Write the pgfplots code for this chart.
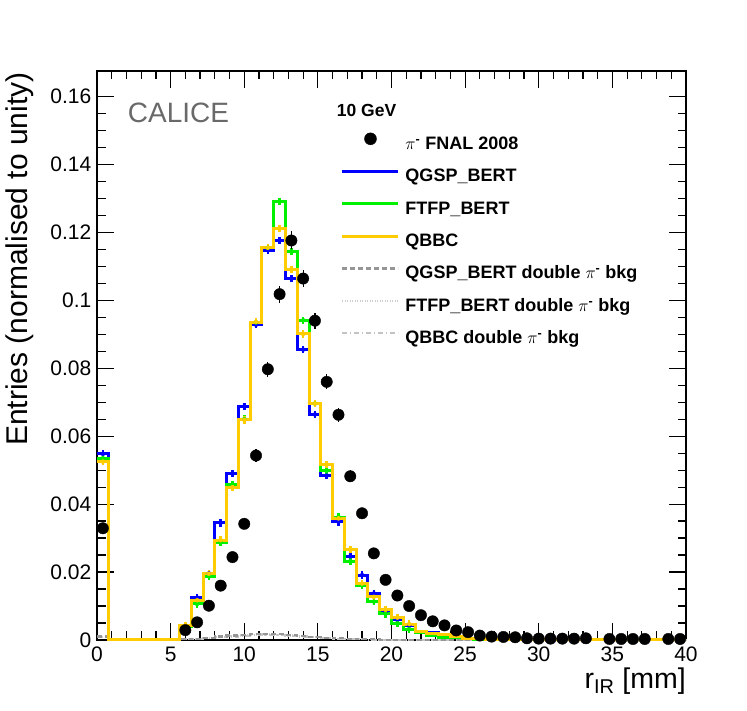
\documentclass[border=0pt]{standalone}
\usepackage{pgfplots}
\pgfplotsset{compat=1.18}
\usepackage{pgfplotstable}
\usepackage{fontspec}
\setmainfont{Liberation Sans}
\definecolor{qbbc}{RGB}{255,204,0}
\definecolor{qgsp}{RGB}{0,0,255}
\definecolor{ftfp}{RGB}{0,240,0}
\definecolor{bkgA}{RGB}{150,150,150}
\definecolor{bkgB}{RGB}{205,205,205}
\definecolor{bkgC}{RGB}{195,195,195}
\definecolor{calgray}{RGB}{105,105,105}

% MC histograms: left bin edge, QGSP_BERT, FTFP_BERT, QBBC, and double-pion backgrounds
\pgfplotstableread{
e    q       f       b       qd      fd      bd
0.0  0.0548  0.0535  0.0525  0.0010  0.0009  0.0008
0.8  0       0       0       0       0       0
1.6  0       0       0       0       0       0
2.4  0       0       0       0       0       0
3.2  0       0       0       0       0       0
4.0  0       0       0       0       0       0
4.8  0       0       0       0       0       0
5.6  0.0040  0.0040  0.0042  0.0002  0.0002  0.0002
6.4  0.0125  0.0106  0.0117  0.0004  0.0003  0.0003
7.2  0.0196  0.0187  0.0195  0.0007  0.0006  0.0005
8.0  0.0345  0.0288  0.0294  0.0010  0.0008  0.0008
8.8  0.0490  0.0457  0.0450  0.0013  0.0011  0.0010
9.6  0.0688  0.0650  0.0648  0.0015  0.0013  0.0012
10.4 0.0928  0.0935  0.0936  0.0017  0.0015  0.0014
11.2 0.1148  0.1155  0.1155  0.0018  0.0016  0.0015
12.0 0.1176  0.1291  0.1211  0.0017  0.0015  0.0014
12.8 0.1064  0.1144  0.1091  0.0015  0.0013  0.0012
13.6 0.0855  0.0941  0.0901  0.0012  0.0011  0.0010
14.4 0.0664  0.0696  0.0696  0.0009  0.0008  0.0008
15.2 0.0484  0.0499  0.0516  0.0007  0.0006  0.0006
16.0 0.0348  0.0362  0.0358  0.0005  0.0004  0.0004
16.8 0.0246  0.0232  0.0267  0.0004  0.0003  0.0003
17.6 0.0191  0.0161  0.0166  0.0003  0.0002  0.0002
18.4 0.0137  0.0113  0.0127  0.0002  0.0001  0.0001
19.2 0.0083  0.0077  0.0089  0.0001  0.0001  0.0001
20.0 0.0059  0.0049  0.0066  0       0       0
20.8 0.0042  0.0032  0.0047  0       0       0
21.6 0.0026  0.0021  0.0026  0       0       0
22.4 0.0021  0.0012  0.0020  0       0       0
23.2 0.0013  0.0008  0.0015  0       0       0
24.0 0.0008  0.0006  0.0009  0       0       0
24.8 0.0005  0.0004  0.0005  0       0       0
25.6 0.0003  0.0002  0.0003  0       0       0
26.4 0.0002  0.0001  0.0002  0       0       0
27.2 0.0001  0.0001  0.0001  0       0       0
28.0 0       0       0       0       0       0
28.8 0       0       0       0       0       0
29.6 0       0       0       0       0       0
30.4 0       0       0       0       0       0
31.2 0       0       0       0       0       0
32.0 0       0       0       0       0       0
32.8 0       0       0       0       0       0
33.6 0       0       0       0       0       0
34.4 0       0       0       0       0       0
35.2 0       0       0       0       0       0
36.0 0       0       0       0       0       0
36.8 0       0       0       0       0       0
37.6 0       0       0       0       0       0
38.4 0       0       0       0       0       0
39.2 0       0       0       0       0       0
40.0 0       0       0       0       0       0
}\mc

% Data: bin centre, value, error
\pgfplotstableread{
c    v       err
0.4  0.0329  0.0008
6.0  0.0029  0.0005
6.8  0.0052  0.0006
7.6  0.0101  0.0008
8.4  0.0160  0.0010
9.2  0.0244  0.0012
10.0 0.0342  0.0014
10.8 0.0543  0.0018
11.6 0.0797  0.0022
12.4 0.1018  0.0025
13.2 0.1176  0.0027
14.0 0.1064  0.0026
14.8 0.0940  0.0024
15.6 0.0760  0.0022
16.4 0.0663  0.0020
17.2 0.0482  0.0017
18.0 0.0373  0.0015
18.8 0.0255  0.0012
19.6 0.0177  0.0010
20.4 0.0131  0.0009
21.2 0.0100  0.0008
22.0 0.0073  0.0007
22.8 0.0055  0.0006
23.6 0.0043  0.0005
24.4 0.0028  0.0004
25.2 0.0023  0.0004
26.0 0.0013  0.0003
26.8 0.0010  0.0003
27.6 0.0009  0.0002
28.4 0.0008  0.0002
29.2 0.0005  0.0002
30.0 0.0004  0.0002
30.8 0.0004  0.0002
31.6 0.0004  0.0002
32.4 0.0004  0.0002
33.2 0.0005  0.0002
34.8 0.0003  0.0002
35.6 0.0003  0.0002
36.4 0.0003  0.0002
37.2 0.0003  0.0002
38.8 0.0003  0.0002
39.6 0.0003  0.0002
}\data

\begin{document}
\begin{tikzpicture}
\path[use as bounding box] (0,0) rectangle (747pt,711pt);
\begin{axis}[
  at={(97pt,71pt)}, anchor=south west,
  scale only axis, width=589pt, height=569pt,
  xmin=0, xmax=40, ymin=0, ymax=0.1675,
  clip=false,
  axis line style={line width=1.5pt, black},
  tick align=inside,
  xtick={0,5,10,15,20,25,30,35,40}, minor x tick num=4,
  ytick={0,0.02,0.04,0.06,0.08,0.1,0.12,0.14,0.16}, minor y tick num=3,
  major tick length=17pt, minor tick length=8.5pt,
  tick style={line width=1.2pt, black},
  /pgf/number format/assume math mode=true,
  ticklabel style={font=\fontsize{21}{24}\selectfont},
  xticklabel style={inner sep=0pt, yshift=-7pt},
  yticklabel style={/pgf/number format/fixed, /pgf/number format/precision=2, inner sep=0pt, xshift=-5.5pt},
  xlabel={r\textsubscript{IR} [mm]},
  ylabel={Entries (normalised to unity)},
  every axis x label/.style={at={(axis description cs:1,-0.0852)}, anchor=base east, font=\fontsize{28.5}{32}\selectfont, inner sep=0pt},
  every axis y label/.style={at={(axis description cs:-0.1177,0.998)}, rotate=90, anchor=base east, font=\fontsize{30}{34}\selectfont, inner sep=0pt},
  legend image code/.code={\draw[mark repeat=2, mark phase=2, #1] plot coordinates {(0pt,6.3pt) (28pt,6.3pt) (56pt,6.3pt)}; \node[inner sep=0pt, outer sep=0pt, minimum size=0pt, text height=0pt, text depth=0pt, text width=0pt] at (63pt,6.3pt) {};},
  legend cell align=left,
  legend style={draw=none, fill=none, at={(axis cs:16.57,0.1493)}, anchor=north west,
    inner sep=0pt, outer sep=0pt, row sep=14.9pt,
    font=\bfseries\fontsize{18}{20}\selectfont,
    nodes={inner sep=0pt, text height=13pt, text depth=4.5pt}},
]
% legend entries
\addlegendimage{only marks, mark=*, mark size=6pt, black}
\addlegendentry{$\pi$\textsuperscript{-} FNAL 2008}
\addlegendimage{qgsp, line width=3pt}
\addlegendentry{QGSP\_BERT}
\addlegendimage{ftfp, line width=3pt}
\addlegendentry{FTFP\_BERT}
\addlegendimage{qbbc, line width=3pt}
\addlegendentry{QBBC}
\addlegendimage{bkgA, line width=2.2pt, dash pattern=on 5pt off 3pt}
\addlegendentry{QGSP\_BERT double $\pi$\textsuperscript{-} bkg}
\addlegendimage{bkgB, line width=2.2pt, dash pattern=on 1pt off 1.5pt}
\addlegendentry{FTFP\_BERT double $\pi$\textsuperscript{-} bkg}
\addlegendimage{bkgC, line width=2.2pt, dash pattern=on 5pt off 3pt on 1pt off 3pt}
\addlegendentry{QBBC double $\pi$\textsuperscript{-} bkg}

% background histograms
\addplot[forget plot, const plot, bkgB, line width=2.2pt, dash pattern=on 1pt off 1.5pt] table[x=e, y=fd] {\mc};
\addplot[forget plot, const plot, bkgC, line width=2.2pt, dash pattern=on 5pt off 3pt on 1pt off 3pt] table[x=e, y=bd] {\mc};
\addplot[forget plot, const plot, bkgA, line width=2.2pt, dash pattern=on 5pt off 3pt] table[x=e, y=qd] {\mc};

% MC histograms
\addplot[forget plot, const plot, qgsp, line width=3pt] table[x=e, y=q] {\mc};
\addplot[forget plot, qgsp, only marks, mark=none, restrict y to domain=0.003:1,
  error bars/.cd, y dir=both, y fixed=0.0011, error mark=none, error bar style={qgsp, line width=2.5pt, solid}]
  table[x expr=\thisrow{e}+0.4, y=q] {\mc};
\addplot[forget plot, const plot, ftfp, line width=3pt] table[x=e, y=f] {\mc};
\addplot[forget plot, ftfp, only marks, mark=none, restrict y to domain=0.003:1,
  error bars/.cd, y dir=both, y fixed=0.0011, error mark=none, error bar style={ftfp, line width=2.5pt, solid}]
  table[x expr=\thisrow{e}+0.4, y=f] {\mc};
\addplot[forget plot, const plot, qbbc, line width=3pt] table[x=e, y=b] {\mc};
\addplot[forget plot, qbbc, only marks, mark=none, restrict y to domain=0.003:1,
  error bars/.cd, y dir=both, y fixed=0.0011, error mark=none, error bar style={qbbc, line width=2.5pt, solid}]
  table[x expr=\thisrow{e}+0.4, y=b] {\mc};

% data
\addplot[forget plot, only marks, mark=*, mark size=5.7pt, black,
  error bars/.cd, y dir=both, y explicit, error mark=none, error bar style={black, line width=1.2pt}]
  table[x=c, y=v, y error=err] {\data};

\node[anchor=base west, text=calgray, font=\fontsize{28}{32}\selectfont, inner sep=0pt] at (axis cs:2.085,0.15244) {CALICE};
\node[anchor=base west, font=\bfseries\fontsize{17.5}{20}\selectfont, inner sep=0pt] at (axis cs:16.28,0.1542) {10 GeV};
\end{axis}
\end{tikzpicture}
\end{document}
